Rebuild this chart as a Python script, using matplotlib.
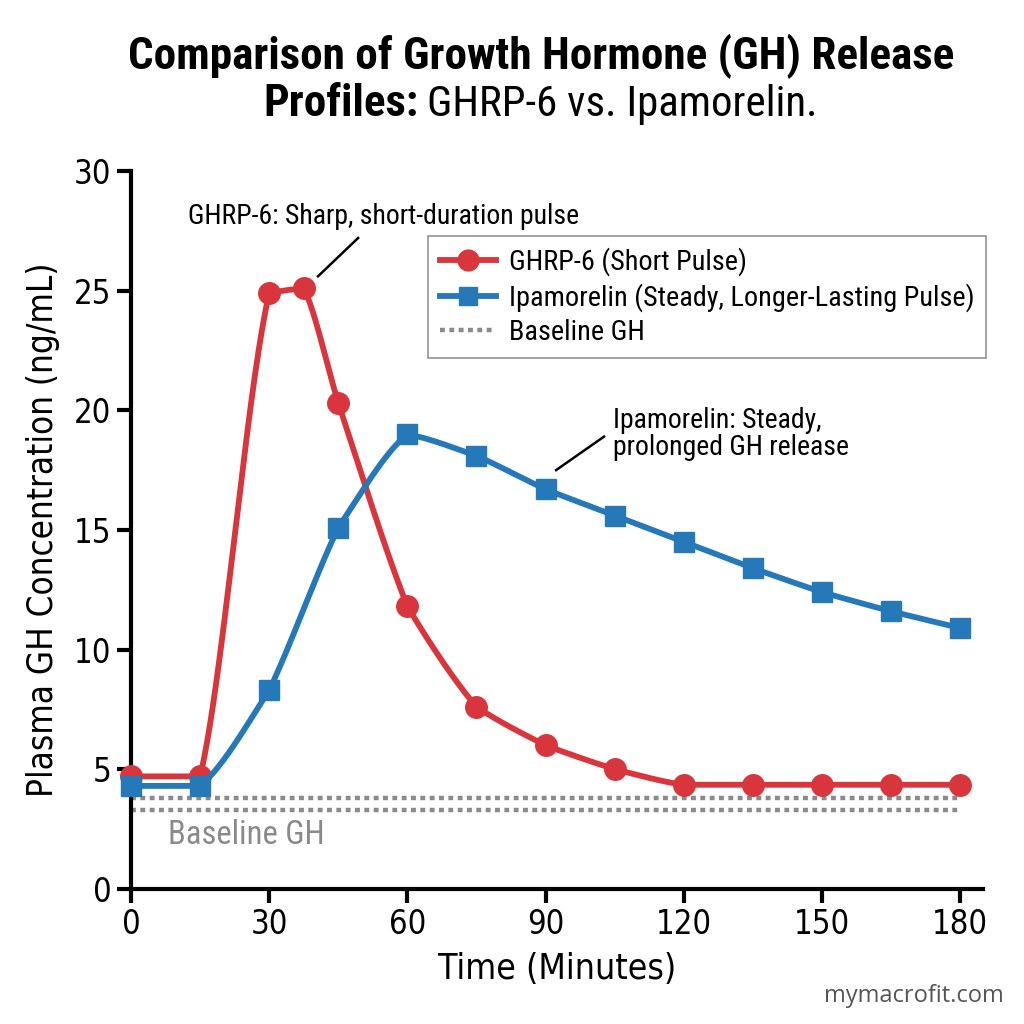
import numpy as np
import matplotlib
matplotlib.use("Agg")
import matplotlib.pyplot as plt
from matplotlib.lines import Line2D

time_ghrp = [0, 15, 30, 37.5, 45, 60, 75, 90, 105, 120, 135, 150, 165, 180]
ghrp6 = [4.7, 4.7, 24.9, 25.1, 20.3, 11.8, 7.6, 6.0, 5.0, 4.35, 4.35, 4.35, 4.35, 4.35]
time_ipa = [0, 15, 30, 45, 60, 75, 90, 105, 120, 135, 150, 165, 180]
ipamorelin = [4.3, 4.3, 8.3, 15.1, 19.0, 18.1, 16.7, 15.6, 14.5, 13.4, 12.4, 11.6, 10.9]
baseline_levels = [3.8, 3.3]
xticks = [0, 30, 60, 90, 120, 150, 180]
yticks = [0, 5, 10, 15, 20, 25, 30]

COND = ['Roboto Condensed', 'DejaVu Sans']
RED = '#d8363c'
BLUE = '#2679b8'
GRAY = '#8a8a8a'
DOT = (0, (1.1, 1.0))


def pchip(x, y, xs):
    x = np.asarray(x, float); y = np.asarray(y, float)
    h = np.diff(x); d = np.diff(y) / h
    n = len(x); m = np.zeros(n)
    for k in range(1, n - 1):
        if d[k - 1] * d[k] > 0:
            w1 = 2 * h[k] + h[k - 1]; w2 = h[k] + 2 * h[k - 1]
            m[k] = (w1 + w2) / (w1 / d[k - 1] + w2 / d[k])
    m[0] = d[0]; m[-1] = d[-1]
    idx = np.clip(np.searchsorted(x, xs) - 1, 0, n - 2)
    t = (xs - x[idx]) / h[idx]
    h00 = 2 * t**3 - 3 * t**2 + 1; h10 = t**3 - 2 * t**2 + t
    h01 = -2 * t**3 + 3 * t**2; h11 = t**3 - t**2
    return h00 * y[idx] + h10 * h[idx] * m[idx] + h01 * y[idx + 1] + h11 * h[idx] * m[idx + 1]


def soft(x, y, xs, k=0.4):
    lin = np.interp(xs, x, y)
    return lin + k * (pchip(x, y, xs) - lin)


fig = plt.figure(figsize=(10.24, 10.24), dpi=100)
ax = fig.add_axes([0.128, 0.132, 0.832, 0.701])

for lv in baseline_levels:
    ax.plot([0, 180], [lv, lv], color=GRAY, lw=3.2, ls=DOT, zorder=1)

xs = np.linspace(0, 180, 1200)
ax.plot(xs, soft(time_ghrp, ghrp6, xs), color=RED, lw=4.2, zorder=3, clip_on=False,
        solid_joinstyle='round')
ax.plot(time_ghrp, ghrp6, 'o', color=RED, ms=15.5, zorder=4, clip_on=False)
ax.plot(xs, soft(time_ipa, ipamorelin, xs), color=BLUE, lw=4.2, zorder=5, clip_on=False,
        solid_joinstyle='round')
ax.plot(time_ipa, ipamorelin, 's', color=BLUE, ms=14, zorder=6, clip_on=False)

ax.set_xlim(0, 185)
ax.set_ylim(0, 30)
ax.set_xticks(xticks)
ax.set_yticks(yticks)
ax.tick_params(labelsize=23.5, width=3, length=10, direction='out', pad=4)
for lbl in ax.get_xticklabels() + ax.get_yticklabels():
    lbl.set_fontstretch('condensed')
for s in ['top', 'right']:
    ax.spines[s].set_visible(False)
for s in ['left', 'bottom']:
    ax.spines[s].set_linewidth(3)
ax.set_xlabel('Time (Minutes)', fontsize=25.5, labelpad=8, fontstretch='condensed')
ax.set_ylabel('Plasma GH Concentration (ng/mL)', fontsize=25, labelpad=10, fontstretch='condensed')

handles = [
    Line2D([], [], color=RED, lw=4.2, marker='o', ms=15),
    Line2D([], [], color=BLUE, lw=4.2, marker='s', ms=13),
    Line2D([], [], color=GRAY, lw=3.2, ls=DOT),
]
leg = ax.legend(handles, ['GHRP-6 (Short Pulse)', 'Ipamorelin (Steady, Longer-Lasting Pulse)', 'Baseline GH'],
                loc='upper right', bbox_to_anchor=(1.003, 0.909),
                prop={'family': COND, 'size': 20.3}, frameon=True, fancybox=False,
                edgecolor='#777777', handlelength=2.0, handletextpad=0.45,
                borderpad=0.4, labelspacing=0.25, borderaxespad=0)
leg.get_frame().set_linewidth(1.2)

ax.text(12.4, 28.1, 'GHRP-6: Sharp, short-duration pulse', fontsize=20, family=COND, va='center', ha='left')
ax.plot([40.6, 49.3], [25.6, 27.2], color='black', lw=1.8, zorder=7)
ax.text(104.6, 19.0, 'Ipamorelin: Steady,\nprolonged GH release',
        fontsize=20, family=COND, va='center', ha='left', linespacing=1.0)
ax.plot([92.3, 102.7], [17.5, 18.9], color='black', lw=1.8, zorder=7)
ax.text(8, 2.26, 'Baseline GH', color=GRAY, fontsize=23.5, family=COND, va='center', ha='left')

# Title
fig.canvas.draw()
r = fig.canvas.get_renderer()
W = fig.bbox.width
t0 = fig.text(0.528, 0.945, 'Comparison of Growth Hormone (GH) Release', ha='center', va='center',
              fontsize=30, fontweight='bold', family=COND)
w = t0.get_window_extent(r).width
fs2 = 30 * 825 / w
t0.set_fontsize(fs2)
t1 = fig.text(0, 0.898, 'Profiles:', ha='left', va='center', fontsize=fs2, fontweight='bold', family=COND)
t2 = fig.text(0, 0.898, 'GHRP-6 vs. Ipamorelin.', ha='left', va='center', fontsize=fs2 * 0.95, family=COND)
w1 = t1.get_window_extent(r).width / W
w2 = t2.get_window_extent(r).width / W
gap = 8 / W
x0 = 0.528 - (w1 + gap + w2) / 2
t1.set_x(x0)
t2.set_x(x0 + w1 + gap)

fig.text(0.98, 0.027, 'mymacrofit.com', ha='right', va='center', fontsize=17, color='#555555', family='Open Sans')

fig.savefig('out.png', dpi=100)
